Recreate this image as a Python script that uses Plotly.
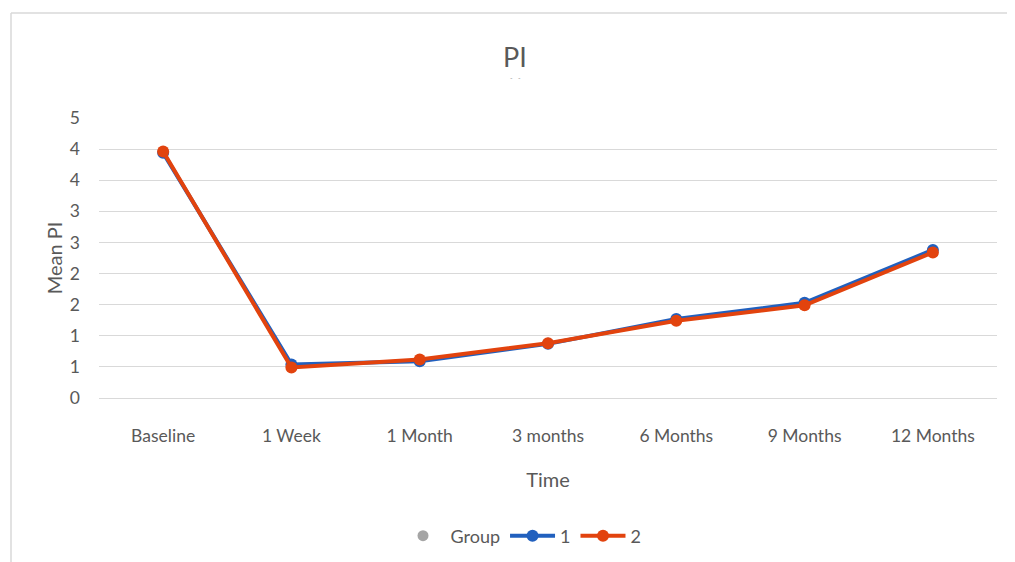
import plotly.graph_objects as go

categories = ["Baseline", "1 Week", "1 Month", "3 months", "6 Months", "9 Months", "12 Months"]
group1 = [3.94, 0.54, 0.59, 0.87, 1.27, 1.53, 2.38]
group2 = [3.96, 0.49, 0.62, 0.88, 1.24, 1.49, 2.34]
tick_vals = [0, 0.5, 1, 1.5, 2, 2.5, 3, 3.5, 4, 4.5]
tick_text = ["0", "1", "1", "2", "2", "3", "3", "4", "4", "5"]

BLUE = "#2160BE"
ORANGE = "#E2430E"
TXT = "#595959"
GRID = "#D9D9D9"
FONT = "Lato, Calibri, Carlito, sans-serif"

fig = go.Figure()
fig.add_trace(go.Scatter(x=[None], y=[None], mode="markers", name="Group",
                         marker=dict(color="#A5A5A5", size=11)))
fig.add_trace(go.Scatter(x=categories, y=group1, mode="lines+markers", name="1",
                         line=dict(color=BLUE, width=4), marker=dict(color=BLUE, size=12)))
fig.add_trace(go.Scatter(x=categories, y=group2, mode="lines+markers", name="2",
                         line=dict(color=ORANGE, width=4), marker=dict(color=ORANGE, size=12)))

OFF = 8  # page body margin
W, H = 1015 - OFF, 562 - OFF
L, T = 99 - OFF, 118 - OFF
R = W - (997 - OFF)
B = H - (398 - OFF)
pw, ph = W - L - R, H - T - B

def px_x(x):
    return (x - OFF - L) / pw

def px_y(y):
    return (T + ph - (y - OFF)) / ph

fig.update_layout(
    width=W, height=H,
    margin=dict(l=L, r=R, t=T, b=B, autoexpand=False),
    paper_bgcolor="white", plot_bgcolor="white",
    font=dict(family=FONT, color=TXT, size=17),
    title=dict(text="PI", x=(515 - OFF) / W, xanchor="center", y=1 - (58 - OFF) / H, yanchor="middle",
               font=dict(size=27, color=TXT, family=FONT)),
    showlegend=True,
    legend=dict(orientation="h", x=px_x(521), xanchor="center", y=px_y(536), yanchor="middle",
                font=dict(size=18, color=TXT), itemwidth=45, traceorder="normal"),
    xaxis=dict(type="category", range=[-0.5, 6.5], showgrid=False, zeroline=False,
               showline=False, ticks="", tickfont=dict(size=17.5, color=TXT),
               ticklabelstandoff=25,
               title=dict(text="Time", font=dict(size=20, color=TXT), standoff=28)),
    yaxis=dict(range=[0, 4.5], tickvals=tick_vals, ticktext=tick_text,
               showgrid=True, gridcolor=GRID, gridwidth=1.3,
               zeroline=True, zerolinecolor=GRID, zerolinewidth=1.3,
               showline=False, ticks="", ticklabelstandoff=18,
               tickfont=dict(size=17.5, color=TXT),
               title=dict(text="Mean PI", font=dict(size=20, color=TXT), standoff=1)),
    shapes=[
        dict(type="line", xref="paper", yref="paper", x0=px_x(11), x1=px_x(1030), y0=px_y(13), y1=px_y(13),
             line=dict(color=GRID, width=1.5)),
        dict(type="line", xref="paper", yref="paper", x0=px_x(11), x1=px_x(11), y0=px_y(13), y1=px_y(580),
             line=dict(color=GRID, width=1.5)),
    ],
    annotations=[
        dict(text="-   -", xref="paper", yref="paper", x=px_x(515), y=px_y(78), showarrow=False,
             font=dict(size=7, color="#A0A0A0"), xanchor="center", yanchor="middle"),
    ],
)

fig.write_html("out.html")
